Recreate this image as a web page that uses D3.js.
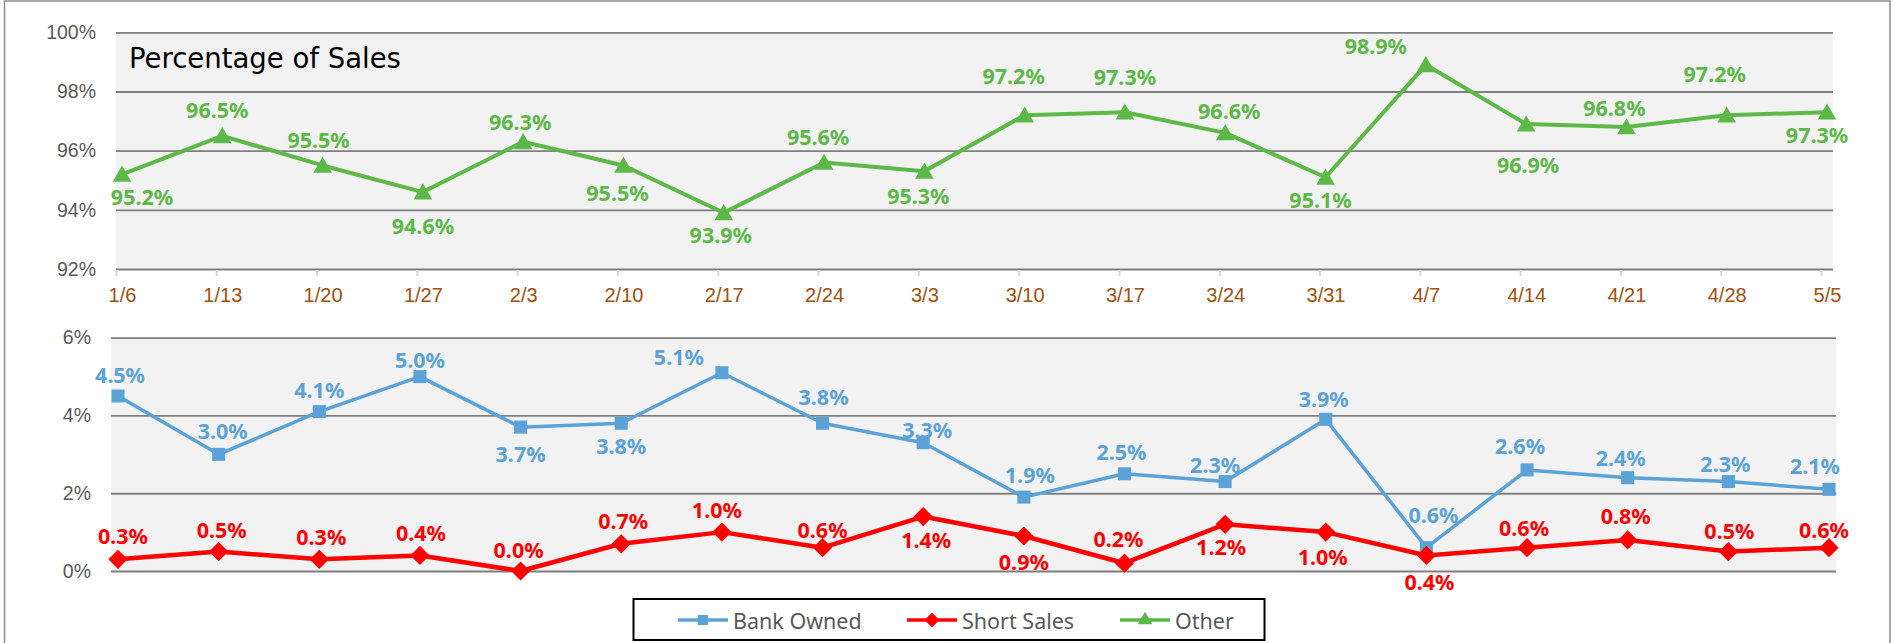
<!DOCTYPE html>
<html>
<head>
<meta charset="utf-8">
<script src="https://cdn.jsdelivr.net/npm/d3@7"></script>
<style>
  body { margin: 0; background: #fff; }
  svg { display: block; font-family: "Noto Sans", sans-serif; }
</style>
</head>
<body>
<div id="chart"></div>
<script>
// weeks on the x axis
const weeks = ["1/6", "1/13", "1/20", "1/27", "2/3", "2/10", "2/17", "2/24", "3/3",
  "3/10", "3/17", "3/24", "3/31", "4/7", "4/14", "4/21", "4/28", "5/5"];

// percentage of sales per week
const other = [95.2, 96.5, 95.5, 94.6, 96.3, 95.5, 93.9, 95.6, 95.3,
  97.2, 97.3, 96.6, 95.1, 98.9, 96.9, 96.8, 97.2, 97.3];
const bankOwned = [4.5, 3.0, 4.1, 5.0, 3.7, 3.8, 5.1, 3.8, 3.3,
  1.9, 2.5, 2.3, 3.9, 0.6, 2.6, 2.4, 2.3, 2.1];
const shortSales = [0.3, 0.5, 0.3, 0.4, 0.0, 0.7, 1.0, 0.6, 1.4,
  0.9, 0.2, 1.2, 1.0, 0.4, 0.6, 0.8, 0.5, 0.6];

const topTicks = [92, 94, 96, 98, 100];
const bottomTicks = [0, 2, 4, 6];

// hand placed data labels (dx, dy from the marker)
const otherLabelPos = [[20, 22], [-5, -26], [-4, -26], [0, 33], [-3, -20], [-6, 27], [-3, 22], [-6, -26], [-6, 24],
  [-11, -40], [0, -36], [4, -22], [-5, 22], [-50, -19], [2, 40], [-12, -19], [-12, -42], [-10, 22]];
const bankLabelPos = [[2, -22], [4, -24], [0, -22], [0, -17], [0, 26], [0, 22], [-43, -16], [1, -27], [4, -13],
  [6, -23], [-3, -22], [-10, -17], [-2, -21], [7, -33], [-7, -24], [-7, -20], [-3, -18], [-14, -24]];
const shortLabelPos = [[5, -24], [3, -22], [2, -23], [1, -23], [-2, -22], [2, -23], [-5, -23], [0, -18], [3, 23],
  [0, 25], [-6, -25], [-4, 22], [-3, 24], [3, 26], [-3, -20], [-2, -24], [1, -21], [-5, -18]];

const green = "#5cb947", blue = "#5ba3d6", red = "#ff0000";
const gridColor = "#7f7f7f", tickText = "#595959", weekColor = "#a0500f";

const svg = d3.select("#chart").append("svg")
  .attr("width", 1895)
  .attr("height", 643);

// outer frame
svg.append("rect")
  .attr("x", 4.5).attr("y", 1)
  .attr("width", 1885.5).attr("height", 700)
  .attr("fill", "none")
  .attr("stroke", "#8c8c8c")
  .attr("stroke-width", 1.5);

// ---------- top panel: Other ----------
const topLeft = 116, topRight = 1833;
const xTop = d3.scalePoint().domain(weeks).range([122, 1827]);
const yTop = d3.scaleLinear().domain([92, 100]).range([269, 32.3]);

svg.append("rect")
  .attr("x", topLeft).attr("y", yTop(100))
  .attr("width", topRight - topLeft).attr("height", yTop(92) - yTop(100))
  .attr("fill", "#f2f2f2");

const topAxis = svg.append("g")
  .attr("transform", `translate(${topLeft},0)`)
  .call(d3.axisLeft(yTop).tickValues(topTicks).tickSize(-(topRight - topLeft))
    .tickPadding(20).tickFormat(d => d + "%"));
topAxis.select(".domain").remove();
topAxis.selectAll("line").attr("stroke", gridColor).attr("stroke-width", 1.8);
topAxis.selectAll("text").attr("fill", tickText).style("font-size", "19.5px").attr("font-family", null);

const xAxis = svg.append("g")
  .attr("transform", `translate(0,${yTop(92) + 1})`)
  .call(d3.axisBottom(xTop).tickSize(6).tickPadding(12));
xAxis.select(".domain").remove();
xAxis.selectAll("line").attr("x1", -6).attr("x2", -6).attr("stroke", "#d9d9d9").attr("stroke-width", 2);
xAxis.selectAll("text").attr("fill", weekColor).style("font-size", "20px").style("font-weight", "500").attr("font-family", null);

svg.append("text")
  .attr("x", 129).attr("y", 68)
  .style("font-family", "'DejaVu Sans', sans-serif")
  .style("font-size", "27.5px")
  .attr("fill", "#000")
  .text("Percentage of Sales");

// ---------- bottom panel: Bank Owned / Short Sales ----------
const botLeft = 111, botRight = 1836;
const xBot = d3.scalePoint().domain(weeks).range([118, 1829]);
const yBot = d3.scaleLinear().domain([0, 6]).range([571, 337.7]);

svg.append("rect")
  .attr("x", botLeft).attr("y", yBot(6))
  .attr("width", botRight - botLeft).attr("height", yBot(0) - yBot(6))
  .attr("fill", "#f2f2f2");

const botAxis = svg.append("g")
  .attr("transform", `translate(${botLeft},0)`)
  .call(d3.axisLeft(yBot).tickValues(bottomTicks).tickSize(-(botRight - botLeft))
    .tickPadding(20).tickFormat(d => d + "%"));
botAxis.select(".domain").remove();
botAxis.selectAll("line").attr("stroke", gridColor).attr("stroke-width", 1.8);
botAxis.selectAll("text").attr("fill", tickText).style("font-size", "19.5px").attr("font-family", null);

// ---------- series ----------
const series = [
  { name: "Bank Owned", values: bankOwned, color: blue, width: 3.5, symbol: d3.symbolSquare, size: 170, rot: 0, x: xBot, y: yBot, labels: bankLabelPos },
  { name: "Short Sales", values: shortSales, color: red, width: 4.5, symbol: d3.symbolSquare, size: 185, rot: 45, x: xBot, y: yBot, labels: shortLabelPos },
  { name: "Other", values: other, color: green, width: 4, symbol: d3.symbolTriangle, size: 150, rot: 0, x: xTop, y: yTop, labels: otherLabelPos }
];

series.forEach(s => {
  const pts = weeks.map((w, i) => ({ w, v: s.values[i], i }));
  const line = d3.line().x(d => s.x(d.w)).y(d => s.y(d.v));

  svg.append("path")
    .datum(pts)
    .attr("d", line)
    .attr("fill", "none")
    .attr("stroke", s.color)
    .attr("stroke-width", s.width)
    .attr("stroke-linejoin", "round");

  svg.append("g").selectAll("path")
    .data(pts)
    .join("path")
    .attr("transform", d => `translate(${s.x(d.w)},${s.y(d.v) + (s.symbol === d3.symbolTriangle ? 2 : 0)}) rotate(${s.rot})`)
    .attr("d", d3.symbol(s.symbol, s.size))
    .attr("fill", s.color);

  svg.append("g").selectAll("text")
    .data(pts)
    .join("text")
    .attr("x", d => s.x(d.w) + s.labels[d.i][0])
    .attr("y", d => s.y(d.v) + s.labels[d.i][1])
    .attr("text-anchor", "middle")
    .attr("dominant-baseline", "central")
    .attr("fill", s.color)
    .style("font-size", "21.5px")
    .style("font-weight", "bold")
    .text(d => d.v.toFixed(1) + "%");
});

// ---------- legend ----------
const legend = svg.append("g");
legend.append("rect")
  .attr("x", 633.5).attr("y", 599)
  .attr("width", 631).attr("height", 41)
  .attr("fill", "#fff")
  .attr("stroke", "#000")
  .attr("stroke-width", 2);

const legendX = [678, 907, 1120];
series.forEach((s, i) => {
  const g = legend.append("g").attr("transform", `translate(${legendX[i]},620)`);
  g.append("line")
    .attr("x1", 0).attr("x2", 50)
    .attr("stroke", s.color)
    .attr("stroke-width", 3.5);
  g.append("path")
    .attr("transform", `translate(25,0) rotate(${s.rot})`)
    .attr("d", d3.symbol(s.symbol, s.size * 0.6))
    .attr("fill", s.color);
  g.append("text")
    .attr("x", 55).attr("y", 0)
    .attr("dominant-baseline", "central")
    .attr("fill", tickText)
    .style("font-size", "21.5px")
    .text(s.name);
});
</script>
</body>
</html>
